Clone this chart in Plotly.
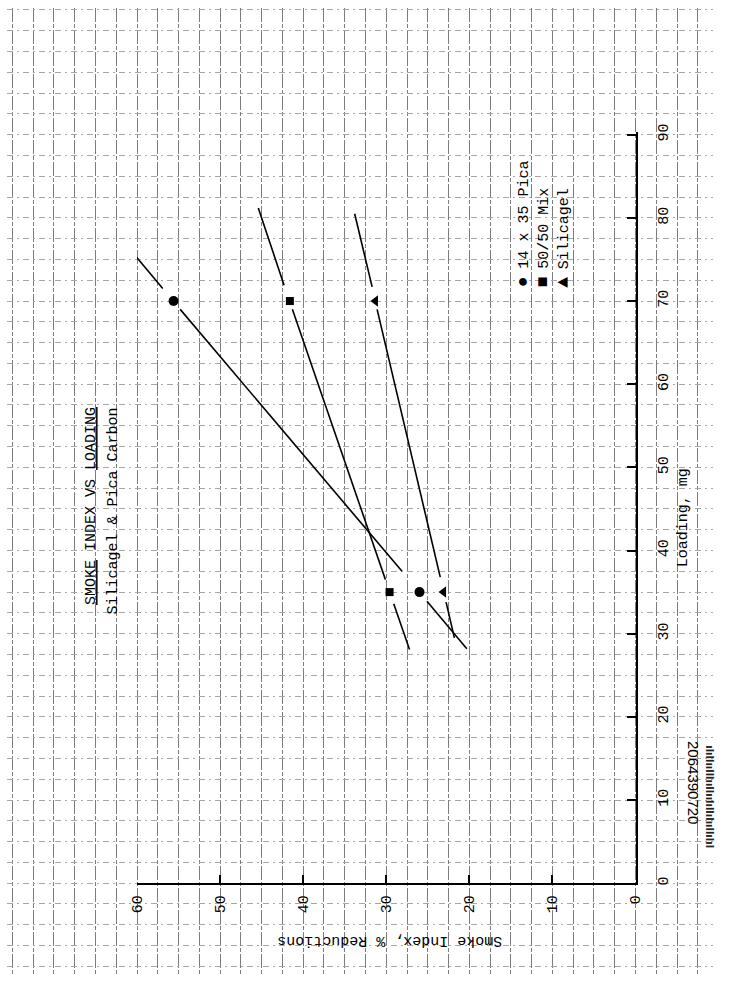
import plotly.graph_objects as go

# ---- data ----
loading_pts = [35, 70]                 # Loading, mg
pica_smoke = [26.0, 55.6]              # 14 x 35 Pica
mix_smoke = [29.6, 41.6]               # 50/50 Mix
silica_smoke = [23.1, 31.3]            # Silicagel

# hand-drawn fit lines (broken around the markers); None = gap
pica_line_load = [77.1, 71.5, None, 69.0, 37.5, None, 33.9, 28.2]
pica_line_smoke = [61.6, 56.9, None, 54.8, 28.1, None, 25.1, 20.3]
mix_line_load = [81.2, 71.9, None, 69.0, 36.5, None, 33.6, 28.1]
mix_line_smoke = [45.4, 42.3, None, 41.3, 30.1, None, 29.1, 27.2]
silica_line_load = [80.5, 71.7, None, 69.0, 36.8, None, 33.8, 29.5]
silica_line_smoke = [33.8, 31.7, None, 31.1, 23.5, None, 22.8, 21.8]

smoke_ticks = [0, 10, 20, 30, 40, 50, 60]
loading_ticks = [0, 10, 20, 30, 40, 50, 60, 70, 80, 90]

series_names = ["14 x 35 Pica", "50/50 Mix", "Silicagel"]
series_glyphs = ["●", "■", "▲"]

W, H = 754, 1000
MONO = "Liberation Mono, Courier New, monospace"
FS = 15

fig = go.Figure()

# invisible trace to activate the background (graph paper) axes
fig.add_trace(go.Scatter(x=[None], y=[None], xaxis="x", yaxis="y",
                         showlegend=False, hoverinfo="skip"))

line_style = dict(color="black", width=1.6)
for ll, ls in [(pica_line_load, pica_line_smoke),
               (mix_line_load, mix_line_smoke),
               (silica_line_load, silica_line_smoke)]:
    fig.add_trace(go.Scatter(x=ls, y=ll, mode="lines", line=line_style,
                             connectgaps=False, xaxis="x2", yaxis="y2",
                             showlegend=False, hoverinfo="skip"))

for vals, sym, sz in [(pica_smoke, "circle", 10),
                      (mix_smoke, "square", 8),
                      (silica_smoke, "triangle-left", 10)]:
    fig.add_trace(go.Scatter(x=vals, y=loading_pts, mode="markers",
                             marker=dict(symbol=sym, size=sz, color="black"),
                             xaxis="x2", yaxis="y2", showlegend=False))

# graph paper axes (pixel mapping matched to the chart axes)
bg_x0, bg_x1 = (643 - 0) / 8.5, (643 - 722) / 8.5
bg_y0, bg_y1 = (884 - 977) / 8.4, (884 - 0) / 8.4

fig.update_layout(
    width=W, height=H, autosize=False,
    margin=dict(l=0, r=0, t=0, b=0),
    paper_bgcolor="white", plot_bgcolor="rgba(0,0,0,0)",
    showlegend=False,
    xaxis=dict(domain=[0, 722 / W], range=[bg_x0, bg_x1], showgrid=True,
               gridcolor="#7c7c7c", gridwidth=1, griddash="14px,2px,4px,2px",
               dtick=2.5, tick0=0, showticklabels=False, ticks="",
               zeroline=False, showline=False, fixedrange=True),
    yaxis=dict(domain=[1 - 977 / H, 1], range=[bg_y0, bg_y1], showgrid=True,
               gridcolor="#a6a6a6", gridwidth=1, griddash="6px,4px,2px,4px",
               dtick=2.5, tick0=0, showticklabels=False, ticks="",
               zeroline=False, showline=False, fixedrange=True),
    xaxis2=dict(domain=[133 / W, 643 / W], range=[60, 0], anchor="y2",
                showgrid=False, zeroline=False, showline=True,
                linecolor="black", linewidth=2,
                tickmode="array", tickvals=smoke_ticks,
                ticktext=[str(v) for v in smoke_ticks],
                ticks="inside", ticklen=8, tickwidth=1.5, tickcolor="black",
                tickangle=-90, ticklabelstandoff=4,
                tickfont=dict(family=MONO, size=FS, color="black")),
    yaxis2=dict(domain=[1 - 884 / H, 1 - 125 / H], range=[0, (884 - 125) / 8.4],
                anchor="x2", side="right",
                showgrid=False, zeroline=False, showline=True,
                linecolor="black", linewidth=2,
                tickmode="array", tickvals=loading_ticks,
                ticktext=[str(v) for v in loading_ticks],
                ticks="inside", ticklen=9, tickwidth=1.5, tickcolor="black",
                tickangle=-90, ticklabelstandoff=12,
                tickfont=dict(family=MONO, size=FS, color="black")),
)

ann = []
def px(x, y):
    return x / W, 1 - y / H

tx, ty = px(87, 503)
ann.append(dict(x=tx, y=ty, text="<u>SMOKE</u> INDEX VS <u>LOADING</u>"))
tx, ty = px(109, 508)
ann.append(dict(x=tx, y=ty, text="Silicagel & Pica Carbon"))

for i, (g, n) in enumerate(zip(series_glyphs, series_names)):
    tx, ty = px(528 + 20 * i, 284.5)
    ann.append(dict(x=tx, y=ty, yanchor="bottom",
                    text="<span style='font-size:18px'>" + g + "</span>"
                         "<span style='font-size:13px'> </span>" + n))

tx, ty = px(692, 515)
ann.append(dict(x=tx, y=ty, text="Loading, mg"))

annotations = []
for a in ann:
    d = dict(xref="paper", yref="paper", showarrow=False, textangle=-90,
             xanchor="center", yanchor="middle",
             font=dict(family=MONO, size=FS, color="black"))
    d.update(a)
    annotations.append(d)

tx, ty = px(392, 942)
annotations.append(dict(x=tx, y=ty, xref="paper", yref="paper", showarrow=False,
                        text="Smoke Index, % Reductions", textangle=180,
                        xanchor="center", yanchor="middle",
                        font=dict(family=MONO, size=FS, color="black")))
tx, ty = px(703, 782)
annotations.append(dict(x=tx, y=ty, xref="paper", yref="paper", showarrow=False,
                        text="2064390720", textangle=90,
                        xanchor="center", yanchor="middle",
                        font=dict(family="Liberation Sans, Arial, sans-serif",
                                  size=15, color="black")))
tx, ty = px(719, 797)
annotations.append(dict(x=tx, y=ty, xref="paper", yref="paper", showarrow=False,
                        text="<b>ılıllıılllııllıılıllılııllılıl</b>", textangle=90,
                        xanchor="center", yanchor="middle",
                        font=dict(family="DejaVu Sans", size=10, color="#222")))

fig.update_layout(annotations=annotations)

fig.write_html("out.html")
